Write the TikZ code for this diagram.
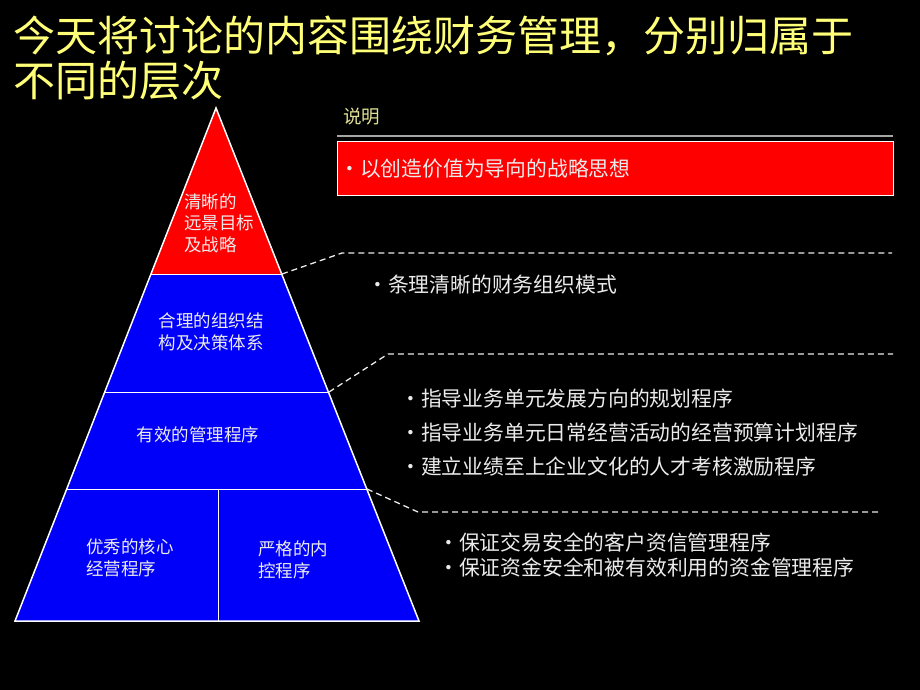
\documentclass[tikz,border=0pt]{standalone}
\usepackage{fontspec}
\setmainfont{Noto Sans CJK SC}
\definecolor{titleyellow}{RGB}{255,255,120}
\definecolor{noteyellow}{RGB}{225,225,150}
\definecolor{tierred}{RGB}{255,0,0}
\definecolor{tierblue}{RGB}{0,0,250}
\definecolor{textgray}{RGB}{235,235,235}
\tikzset{
  titletext/.style={anchor=west, inner sep=0pt, text=titleyellow, font=\fontsize{42}{45}\selectfont},
  tierlabel/.style={inner sep=0pt, text=textgray, align=left, font=\fontsize{17.5}{21.5}\selectfont},
  bullettext/.style={anchor=west, inner sep=0pt, text=textgray, font=\fontsize{20.8}{24}\selectfont},
  linkline/.style={draw=textgray, line width=1.3pt, dash pattern=on 6pt off 4pt},
}

\begin{document}
\begin{tikzpicture}[x=1pt,y=-1pt]
                    \fill[black] (0,0) rectangle (920,690);
                    \useasboundingbox (0,0) rectangle (920,690);

                    \node[titletext] (title1) at (13,36) {今天将讨论的内容围绕财务管理，分别归属于};
                    \node[titletext] (title2) at (13,81) {不同的层次};

                    % pyramid
                    \fill[tierred] (216,108) -- (282,274) -- (151,274) -- cycle;
                    \fill[tierblue] (151,274) -- (282,274) -- (419,621) -- (15,621) -- cycle;
                    \draw[white, line width=1.5pt] (216,108) -- (419,621) -- (15,621) -- cycle;

                    \draw[white, line width=1pt] (151,274) -- (282,274);
                    \draw[white, line width=1pt] (105,392) -- (329,392);
                    \draw[white, line width=1pt] (67,489) -- (367,489);
                    \draw[white, line width=1pt] (218,489) -- (218,621);

                    \coordinate (tier1) at (282,274);
                    \coordinate (tier2) at (329,392);
                    \coordinate (tier3) at (367,489);

                    \node[tierlabel, anchor=west] (vision) at (184,223) {清晰的\\远景目标\\及战略};
                    \node[tierlabel] (structure) at (211,332) {合理的组织结\\构及决策体系};
                    \node[tierlabel] (process) at (198,435) {有效的管理程序};
                    \node[tierlabel, anchor=west] (core) at (86,558) {优秀的核心\\经营程序};
                    \node[tierlabel, anchor=west] (control) at (258,560) {严格的内\\控程序};

                    % notes
                    \node[anchor=west, inner sep=0pt, text=noteyellow, font=\fontsize{18.5}{22}\selectfont] (notehead) at (343,117) {说明};
                    \draw[gray!70!white, line width=2pt] (337,136) -- (893,136);
                    \node[draw=white, line width=1pt, fill=tierred, minimum width=556pt, minimum height=54pt, anchor=north west, inner sep=0pt] (notebox) at (337,141) {};
                    \node[bullettext] (note1) at ([xshift=2pt]notebox.west) {•以创造价值为导向的战略思想};

                    \coordinate (bend1) at (342,253);
                    \coordinate (end1) at (892,253);
                    \coordinate (bend2) at (388,354);
                    \coordinate (end2) at (893,354);
                    \coordinate (bend3) at (418,512);
                    \coordinate (end3) at (882,512);
                    \draw[linkline] (tier1) -- (bend1) -- (end1);
                    \draw[linkline] (tier2) -- (bend2) -- (end2);
                    \draw[linkline] (tier3) -- (bend3) -- (end3);

                    \node[bullettext] (note2) at (367,285) {•条理清晰的财务组织模式};
                    \node[bullettext] (note3) at (400,399) {•指导业务单元发展方向的规划程序};
                    \node[bullettext] (note4) at (400,433) {•指导业务单元日常经营活动的经营预算计划程序};
                    \node[bullettext] (note5) at (400,467) {•建立业绩至上企业文化的人才考核激励程序};
                    \node[bullettext] (note6) at (438,543) {•保证交易安全的客户资信管理程序};
                    \node[bullettext] (note7) at (438,568) {•保证资金安全和被有效利用的资金管理程序};
                \end{tikzpicture}
\end{document}
